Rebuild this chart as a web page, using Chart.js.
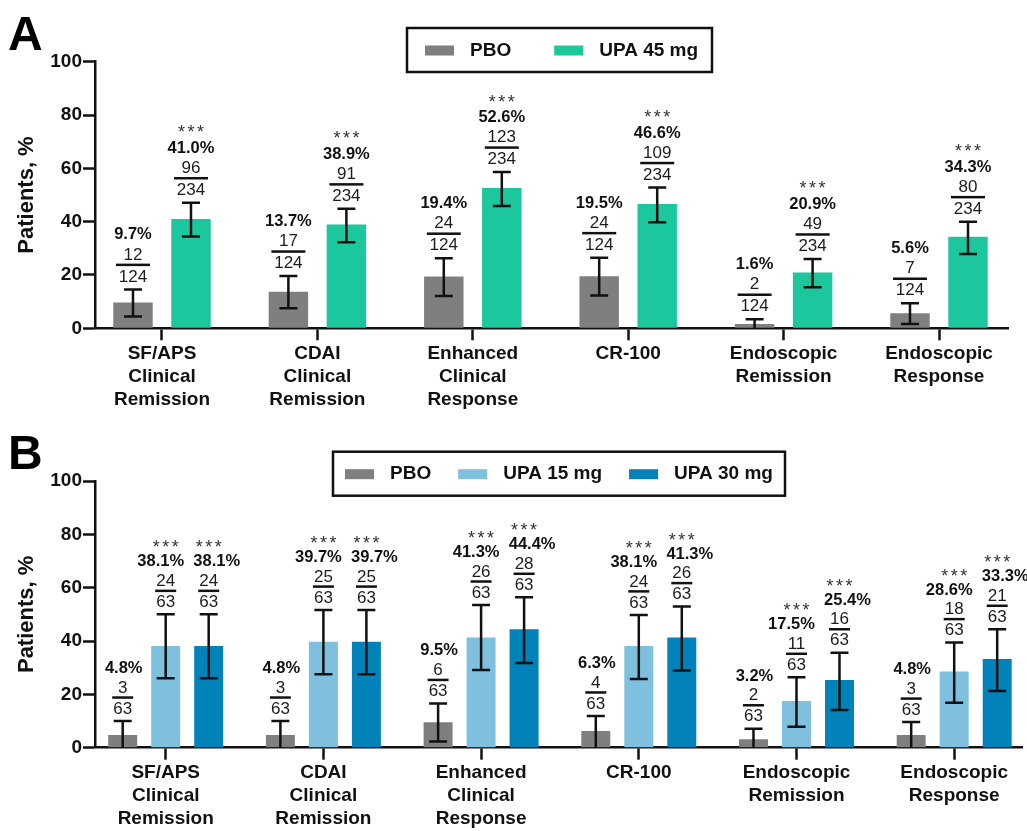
<!DOCTYPE html>
<html>
<head>
<meta charset="utf-8">
<script src="https://cdn.jsdelivr.net/npm/chart.js@4.4.1/dist/chart.umd.min.js"></script>
<style>
  html, body { margin: 0; padding: 0; background: #ffffff; }
  #wrap { position: relative; width: 1027px; height: 831px; }
  .panel { position: absolute; left: 0; width: 1027px; }
  #pa { top: 0; height: 415px; }
  #pb { top: 415px; height: 416px; }
</style>
</head>
<body>
<div id="wrap">
  <div class="panel" id="pa"><canvas id="chartA"></canvas></div>
  <div class="panel" id="pb"><canvas id="chartB"></canvas></div>
</div>
<script>
// ---- Endpoints (x-axis categories, multi-line) ----
const categories = [
  ['SF/APS', 'Clinical', 'Remission'],
  ['CDAI', 'Clinical', 'Remission'],
  ['Enhanced', 'Clinical', 'Response'],
  ['CR-100'],
  ['Endoscopic', 'Remission'],
  ['Endoscopic', 'Response']
];
const yTicks = [0, 20, 40, 60, 80, 100];

// ---- Panel A: placebo vs upadacitinib 45 mg ----
const pboA      = [9.7, 13.7, 19.4, 19.5, 1.6, 5.6];
const pboA_n    = [12, 17, 24, 24, 2, 7];
const pboA_N    = 124;
const pboA_lo   = [4.4, 7.5, 12.1, 12.3, 0, 1.6];
const pboA_hi   = [14.6, 19.6, 26.3, 26.5, 3.4, 9.4];

const upa45A    = [41.0, 38.9, 52.6, 46.6, 20.9, 34.3];
const upa45A_n  = [96, 91, 123, 109, 49, 80];
const upa45A_N  = 234;
const upa45A_lo = [34.4, 32.3, 45.9, 39.8, 15.4, 27.9];
const upa45A_hi = [47.1, 44.8, 58.6, 52.8, 26.0, 40.0];

// ---- Panel B: placebo vs upadacitinib 15 mg / 30 mg ----
const pboB      = [4.8, 4.8, 9.5, 6.3, 3.2, 4.8];
const pboB_n    = [3, 3, 6, 4, 2, 3];
const pboB_N    = 63;
const pboB_lo   = [0, 0, 2.3, 0, 0, 0];
const pboB_hi   = [10.0, 10.0, 16.6, 11.9, 7.1, 9.6];

const upa15B    = [38.1, 39.7, 41.3, 38.1, 17.5, 28.6];
const upa15B_n  = [24, 25, 26, 24, 11, 18];
const upa15B_N  = 63;
const upa15B_lo = [26.0, 27.5, 29.1, 25.8, 7.9, 16.9];
const upa15B_hi = [50.0, 51.6, 53.5, 49.8, 26.4, 39.4];

const upa30B    = [38.1, 39.7, 44.4, 41.3, 25.4, 33.3];
const upa30B_n  = [24, 25, 28, 26, 16, 21];
const upa30B_N  = 63;
const upa30B_lo = [26.0, 27.5, 31.8, 28.9, 14.1, 21.3];
const upa30B_hi = [50.0, 51.6, 56.4, 52.9, 35.6, 44.4];

const sigLabel = '***';

// ---- styling ----
const FONT = "'Liberation Sans', Arial, Helvetica, sans-serif";
const INK = '#111111';
const COLORS = { pbo: '#7f7f7f', upa45: '#1cc79e', upa15: '#7ec0dd', upa30: '#0183ba' };
Chart.defaults.font.family = FONT;
Chart.defaults.color = INK;

// Error bars plus the n/N fraction, percentage and significance stack above each bar
const errorBarPlugin = {
  id: 'errorBars',
  afterDatasetsDraw(chart, args, opts) {
    const { ctx } = chart;
    const y = chart.scales.y;
    chart.data.datasets.forEach((ds, di) => {
      const meta = chart.getDatasetMeta(di);
      meta.data.forEach((bar, i) => {
        const x = bar.x;
        const yLo = y.getPixelForValue(ds.lo[i]);
        const yHi = y.getPixelForValue(ds.hi[i]);
        const cap = opts.cap;
        ctx.save();
        ctx.strokeStyle = INK;
        ctx.lineWidth = 2.5;
        ctx.beginPath();
        ctx.moveTo(x, yLo); ctx.lineTo(x, yHi);
        ctx.moveTo(x - cap / 2, yHi); ctx.lineTo(x + cap / 2, yHi);
        if (ds.lo[i] > 0) { ctx.moveTo(x - cap / 2, yLo); ctx.lineTo(x + cap / 2, yLo); }
        ctx.stroke();

        // fraction n / N
        ctx.textAlign = 'center';
        ctx.textBaseline = 'middle';
        ctx.fillStyle = '#1c1c1c';
        ctx.font = '17px ' + FONT;
        ctx.fillText(String(ds.nN), x, yHi - opts.denOff);
        ctx.fillText(String(ds.n[i]), x, yHi - opts.numOff);
        ctx.fillStyle = INK;
        ctx.fillRect(x - opts.fracW / 2, yHi - opts.lineOff - 1.25, opts.fracW, 2.5);

        // percentage
        ctx.font = 'bold 16.5px ' + FONT;
        ctx.fillText(ds.data[i].y.toFixed(1) + '%', x + (ds.pctShift || 0), yHi - opts.pctOff);

        // significance marker
        if (ds.sig) {
          ctx.font = '18px ' + FONT;
          ctx.fillStyle = '#333333';
          ctx.textBaseline = 'alphabetic';
          const base = yHi - opts.starOff + 10;
          for (let k = -1; k <= 1; k++) ctx.fillText(sigLabel[k + 1], x + k * 9.5, base);
        }
        ctx.restore();
      });
    });
  }
};

// Boxed legend and the panel letter
const frameLegendPlugin = {
  id: 'frameLegend',
  afterDraw(chart, args, opts) {
    const { ctx } = chart;
    ctx.save();
    ctx.strokeStyle = INK;
    ctx.lineWidth = 2.5;
    ctx.strokeRect(opts.left, opts.top, opts.width, opts.height);
    const cy = opts.top + opts.height / 2 + 0.5;
    let x = opts.left + opts.padLeft;
    ctx.font = 'bold 19px ' + FONT;
    ctx.textAlign = 'left';
    ctx.textBaseline = 'middle';
    chart.data.datasets.forEach(ds => {
      ctx.fillStyle = ds.backgroundColor;
      ctx.fillRect(x, cy - 5, 29, 10);
      x += 29 + 16;
      ctx.fillStyle = INK;
      ctx.fillText(ds.label, x, cy);
      x += ctx.measureText(ds.label).width + opts.gap;
    });
    // panel letter
    ctx.font = 'bold 48px ' + FONT;
    ctx.textBaseline = 'alphabetic';
    ctx.fillStyle = '#000000';
    ctx.fillText(opts.letter, 8, opts.letterBase);
    ctx.restore();
  }
};

function series(label, color, values, n, N, lo, hi, sig, pctShift) {
  return {
    label, backgroundColor: color, borderWidth: 0,
    data: values.map((v, i) => ({ x: i, y: v })),
    n, nN: N, lo, hi, sig, pctShift
  };
}

function makePanel(id, datasets, P) {
  return new Chart(document.getElementById(id), {
    type: 'bar',
    data: { datasets },
    plugins: [errorBarPlugin, frameLegendPlugin],
    options: {
      responsive: true,
      maintainAspectRatio: false,
      animation: false,
      layout: { padding: { top: P.top, right: P.right, left: 0, bottom: 0 } },
      datasets: { bar: { categoryPercentage: P.catPct, barPercentage: P.barPct } },
      plugins: {
        legend: { display: false },
        tooltip: { enabled: false },
        errorBars: P.err,
        frameLegend: P.legend
      },
      scales: {
        x: {
          type: 'linear',
          min: P.xMin, max: P.xMax,
          offset: false,
          afterBuildTicks: s => { s.ticks = categories.map((_, i) => ({ value: i })); },
          afterFit: s => { s.height = P.xHeight; },
          grid: { offset: false, drawOnChartArea: false, drawTicks: true, tickLength: 12, tickWidth: 2.5, tickColor: INK },
          border: { display: true, color: INK, width: 2.5 },
          ticks: {
            autoSkip: false, maxRotation: 0, minRotation: 0, padding: 2, color: INK,
            font: { size: 19, weight: 'bold', lineHeight: 1.2 },
            callback: v => categories[v]
          }
        },
        y: {
          min: 0, max: 100,
          afterBuildTicks: s => { s.ticks = yTicks.map(v => ({ value: v })); },
          afterFit: s => { s.width = 95; },
          grid: { drawOnChartArea: false, drawTicks: true, tickLength: 12, tickWidth: 2.5, tickColor: INK },
          border: { display: true, color: INK, width: 2.5 },
          ticks: { padding: 1, color: INK, font: { size: 19, weight: 'bold' } },
          title: {
            display: true, text: 'Patients, %', color: INK,
            font: { size: 22, weight: 'bold' }, padding: { top: 14, bottom: 0 }
          }
        }
      }
    }
  });
}

makePanel('chartA', [
  series('PBO', COLORS.pbo, pboA, pboA_n, pboA_N, pboA_lo, pboA_hi, false, 0),
  series('UPA 45 mg', COLORS.upa45, upa45A, upa45A_n, upa45A_N, upa45A_lo, upa45A_hi, true, 0)
], {
  top: 61.7, right: 19, xHeight: 86.7,
  xMin: -0.4311, xMax: 5.444,
  catPct: 0.7465, barPct: 0.68,
  err: { cap: 18, denOff: 12.5, lineOff: 24.5, numOff: 34.5, pctOff: 54.5, starOff: 74.5, fracW: 34 },
  legend: { left: 407, top: 28, width: 305, height: 44, padLeft: 18, gap: 43, letter: 'A', letterBase: 50 }
});

makePanel('chartB', [
  series('PBO', COLORS.pbo, pboB, pboB_n, pboB_N, pboB_lo, pboB_hi, false, 1),
  series('UPA 15 mg', COLORS.upa15, upa15B, upa15B_n, upa15B_N, upa15B_lo, upa15B_hi, true, -5),
  series('UPA 30 mg', COLORS.upa30, upa30B, upa30B_n, upa30B_N, upa30B_lo, upa30B_hi, true, 8)
], {
  top: 66, right: 5, xHeight: 83.3,
  xMin: -0.4483, xMax: 5.430,
  catPct: 0.818, barPct: 0.674,
  err: { cap: 18, denOff: 12, lineOff: 23.5, numOff: 33, pctOff: 52.5, starOff: 71, fracW: 21 },
  legend: { left: 333, top: 36.7, width: 452, height: 44, padLeft: 12, gap: 27, letter: 'B', letterBase: 54 }
});
</script>
</body>
</html>
